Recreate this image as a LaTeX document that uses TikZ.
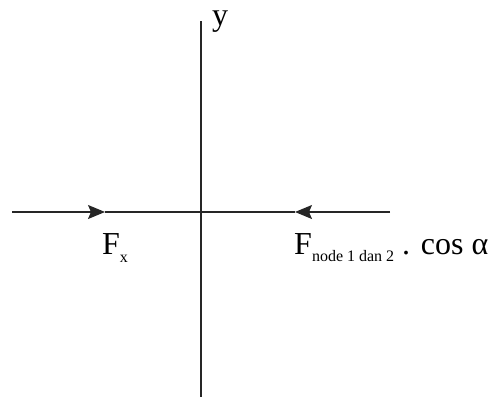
\documentclass[tikz,border=0pt]{standalone}
\usepackage{fontspec}
\setmainfont{Liberation Serif}
\usetikzlibrary{arrows.meta}

\begin{document}
\begin{tikzpicture}[
    x=1pt, y=-1pt,
    axis/.style={line width=1.4pt, black!85},
    force/.style={axis, -{Stealth[length=17pt, width=14pt, inset=3pt]}},
    lbl/.style={anchor=base west, inner sep=0pt, font=\fontsize{32}{36}\selectfont}
]
\useasboundingbox (0,0) rectangle (490,397);
% axes
\coordinate (ytop) at (201,21);
\coordinate (ybot) at (201,397);
\coordinate (xleft) at (12,212);
\coordinate (xright) at (390,212);
\coordinate (fxtip) at (105,212);
\coordinate (fntip) at (295,212);
\draw[axis] (ytop) -- (ybot);
\node[lbl] (ylabel) at (212,25) {y};
% forces
\draw[force] (xleft) -- (fxtip);
\draw[axis] (fxtip) -- (fntip);
\draw[force] (xright) -- (fntip);
\node[lbl] (fxlabel) at (102,254) {F\raisebox{-8pt}{\fontsize{16}{18}\selectfont x}};
\node[lbl] (fnlabel) at (294,254) {F\raisebox{-7pt}{\fontsize{16}{18}\selectfont node 1 dan 2} . cos α};
\end{tikzpicture}
\end{document}
